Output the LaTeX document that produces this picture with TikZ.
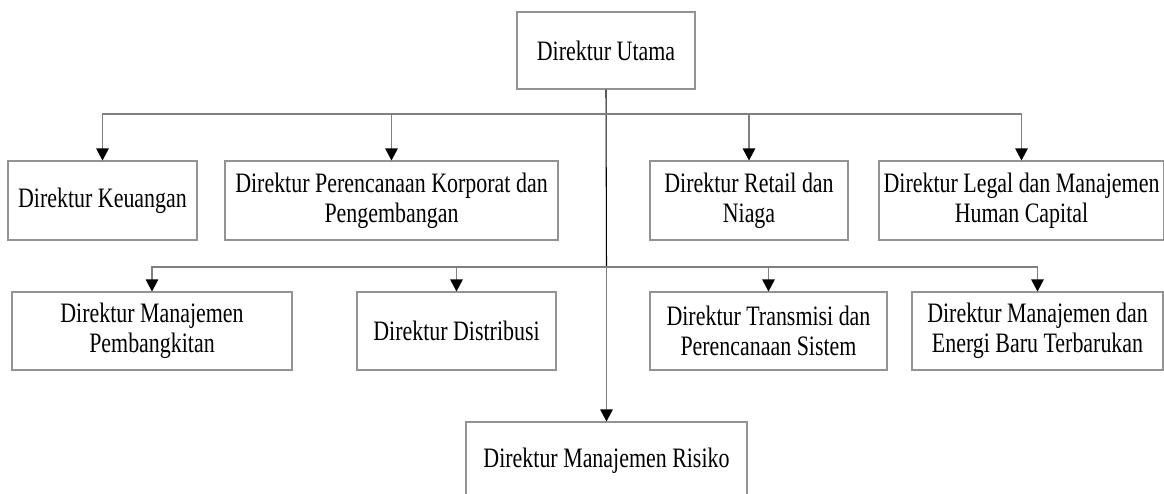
\documentclass[tikz,border=0pt]{standalone}
\usepackage{fontspec}
\setmainfont{Liberation Serif}[FakeStretch=0.78]
\usetikzlibrary{arrows.meta}

\begin{document}
\begin{tikzpicture}[
        dir/.style={draw=gray!85,line width=0.6pt,align=center,inner sep=2pt,font=\fontsize{16}{17}\selectfont},
        link/.style={draw=gray,line width=0.6pt,-{Triangle[width=0.25cm,length=0.24cm,color=black]}}]
        \clip(0,0)rectangle(23.28,-9.86);
        \useasboundingbox(0,0)rectangle(23.28,-9.86);
        % direktur utama
        \node[dir,minimum width=3.56cm,minimum height=1.54cm](utama)at(12.12,-1.01){Direktur Utama};
        % baris pertama
        \node[dir,minimum width=3.78cm,minimum height=1.58cm](keu)at(2.05,-4.01){Direktur Keuangan};
        \node[dir,minimum width=6.66cm,minimum height=1.58cm](renc)at(7.83,-4.01){Direktur Perencanaan Korporat dan\\Pengembangan};
        \node[dir,minimum width=3.96cm,minimum height=1.58cm](retail)at(14.98,-4.01){Direktur Retail dan\\Niaga};
        \node[dir,minimum width=5.70cm,minimum height=1.58cm](legal)at(20.43,-4.01){Direktur Legal dan Manajemen\\Human Capital};
        % baris kedua
        \node[dir,minimum width=5.60cm,minimum height=1.56cm](pemb)at(3.04,-6.62){Direktur Manajemen\\Pembangkitan};
        \node[dir,minimum width=3.98cm,minimum height=1.56cm](dist)at(9.13,-6.62){Direktur Distribusi};
        \node[dir,minimum width=4.74cm,minimum height=1.56cm](trans)at(15.37,-6.62){Direktur Transmisi dan\\Perencanaan Sistem};
        \node[dir,minimum width=5.02cm,minimum height=1.56cm](ebt)at(20.75,-6.62){Direktur Manajemen dan\\Energi Baru Terbarukan};
        % risiko
        \node[dir,minimum width=5.62cm,minimum height=1.56cm](risiko)at(12.13,-9.22){Direktur Manajemen Risiko};
        % garis
        \coordinate(j1)at(12.13,-2.28);
        \coordinate(j2)at(12.13,-5.34);
        \draw[line width=0.6pt](utama.south)--(j2);
        \draw[link](j2)--(risiko.north);
        \draw[link](j1)-|(keu.north);
        \draw[link](j1)-|(renc.north);
        \draw[link](j1)-|(retail.north);
        \draw[link](j1)-|(legal.north);
        \draw[link](j2)-|(pemb.north);
        \draw[link](j2)-|(dist.north);
        \draw[link](j2)-|(trans.north);
        \draw[link](j2)-|(ebt.north);

    \end{tikzpicture}
\end{document}
